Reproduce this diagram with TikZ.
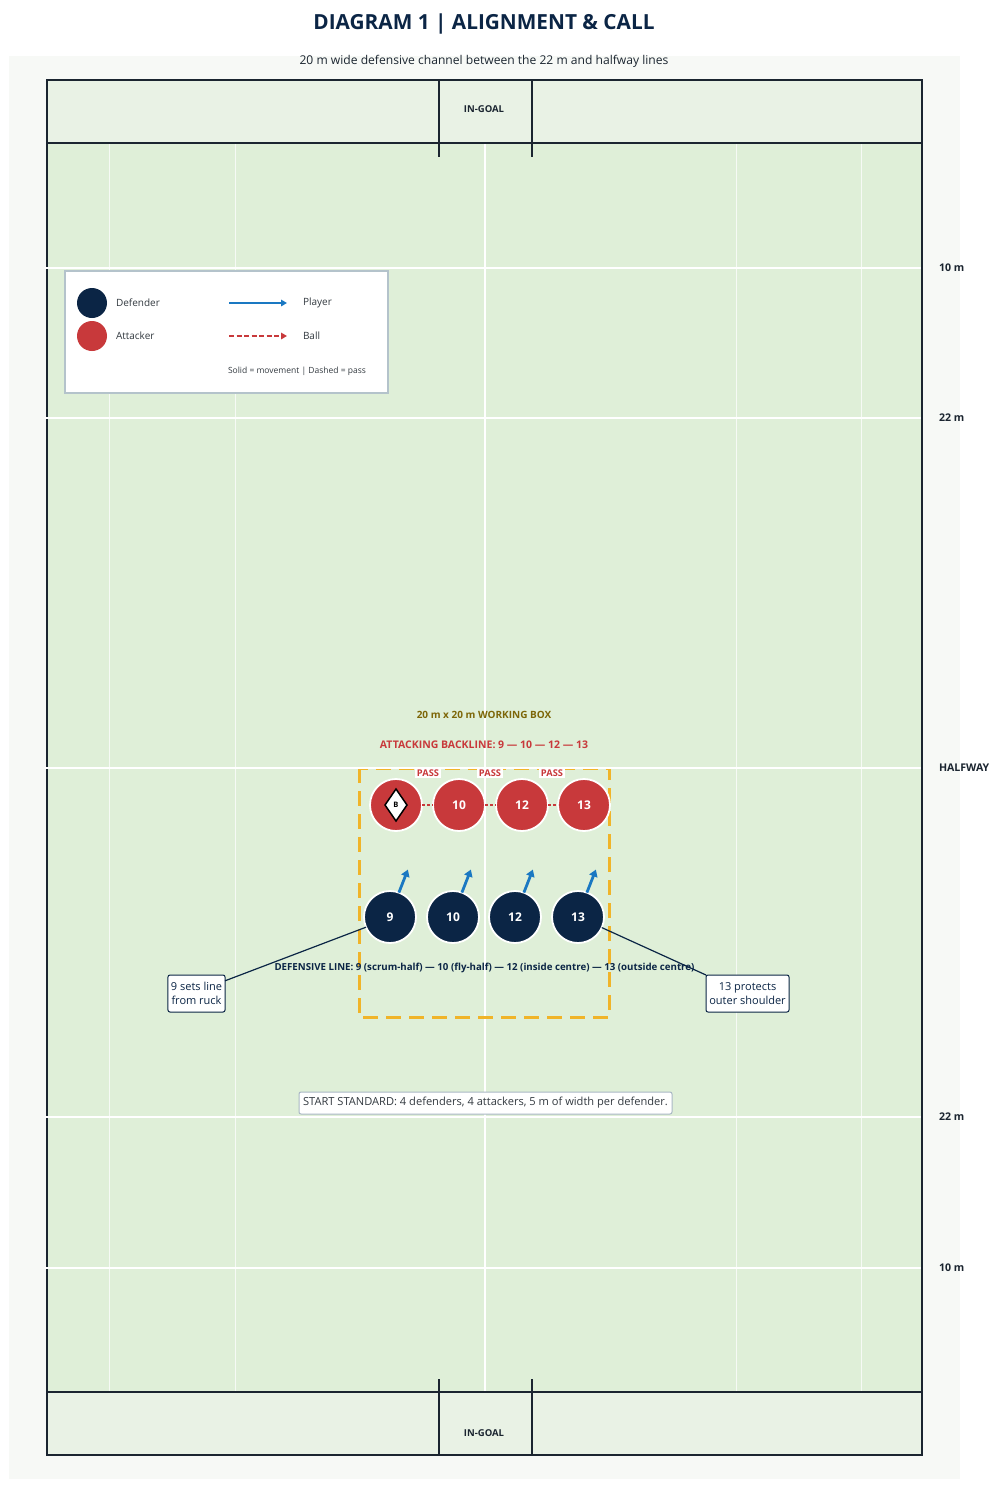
\documentclass[tikz,border=0pt]{standalone}
\usepackage{fontspec}
\setmainfont{Open Sans}
\usetikzlibrary{arrows.meta,shapes.geometric}
\definecolor{navy}{HTML}{0B2545}
\definecolor{atk}{HTML}{C8393B}
\definecolor{mv}{HTML}{1A78C2}
\definecolor{fieldg}{HTML}{DFEFD8}
\definecolor{ingoal}{HTML}{E9F2E5}
\definecolor{panel}{HTML}{F7F9F6}
\definecolor{lineD}{HTML}{1B2530}
\definecolor{boxY}{HTML}{F0B429}
\definecolor{olive}{HTML}{7D6608}
\definecolor{legB}{HTML}{B4C3CB}
\definecolor{txtG}{HTML}{333A40}
\definecolor{stdB}{HTML}{A9B7C4}
\begin{document}
\begin{tikzpicture}[x=1pt,y=-1pt,
  every node/.style={inner sep=0pt, outer sep=0pt},
  sidelbl/.style={font=\bfseries\fontsize{10.6}{12}\selectfont, text=lineD, anchor=west},
  defn/.style={circle, fill=navy, draw=white, line width=1.8pt, minimum size=52pt, text=white, font=\bfseries\fontsize{12}{14}\selectfont},
  attk/.style={defn, fill=atk},
  mvarrow/.style={mv, line width=2.8pt, -{Triangle[length=7pt,width=8.5pt]}},
  passline/.style={atk, line width=2pt, dash pattern=on 3pt off 2pt},
  passlbl/.style={fill=white, inner sep=1.5pt, text=atk, font=\bfseries\fontsize{9.3}{11}\selectfont},
  callout/.style={draw=navy, fill=white, rounded corners=2pt, line width=1pt, inner sep=3pt, align=center, text=navy, font=\fontsize{11}{14}\selectfont},
  legtxt/.style={anchor=west, text=txtG, font=\fontsize{10}{12}\selectfont},
  whiteline/.style={white, line width=2pt},
  faint/.style={white, opacity=0.75, line width=0.8pt},
  outline/.style={lineD, line width=2pt},
  ]
\useasboundingbox (0,0) rectangle (1000,1489);
\fill[white] (0,0) rectangle (1000,1489);
\fill[panel] (9,56) rectangle (960,1479);
% title
\node[font=\bfseries\fontsize{20.8}{24}\selectfont, text=navy] (title) at (484,24) {DIAGRAM 1 | ALIGNMENT \& CALL};
\node[font=\fontsize{12.1}{14}\selectfont, text=lineD] (subtitle) at (484,61) {20 m wide defensive channel between the 22 m and halfway lines};
% field
\fill[ingoal] (47,80) rectangle (922,143);
\fill[ingoal] (47,1392) rectangle (922,1455);
\fill[fieldg] (47,143) rectangle (922,1392);
\foreach \x in {109,235,736,861} \draw[faint] (\x,143) -- (\x,1392);
\draw[white, line width=1.2pt] (485,143) -- (485,1392);
% working box
\draw[boxY, line width=3pt, dash pattern=on 15pt off 8pt] (359,768) rectangle (609,1017);
% outline
\draw[outline] (47,80) rectangle (922,1455);
\draw[outline] (47,143) -- (922,143);
\draw[outline] (47,1392) -- (922,1392);
\draw[outline] (439,80) -- (439,157);
\draw[outline] (532,80) -- (532,157);
\draw[outline] (439,1379) -- (439,1455);
\draw[outline] (532,1379) -- (532,1455);
% white lines
\foreach \y in {268,418,768,1117,1268} \draw[whiteline] (45,\y) -- (921,\y);
% labels
\node[font=\bfseries\fontsize{9.5}{11}\selectfont, text=lineD] (ig1) at (484,109) {IN-GOAL};
\node[font=\bfseries\fontsize{9.5}{11}\selectfont, text=lineD] (ig2) at (484,1433) {IN-GOAL};
\node[sidelbl] (l1) at (939,268) {10 m};
\node[sidelbl] (l2) at (939,418) {22 m};
\node[sidelbl] (l3) at (939,768) {HALFWAY};
\node[sidelbl] (l4) at (939,1117) {22 m};
\node[sidelbl] (l5) at (939,1268) {10 m};
% legend
\draw[legB, fill=white, line width=1.2pt] (65,271) rectangle (388,393);
\node[circle, fill=navy, minimum size=30pt] (legD) at (92,303) {};
\node[circle, fill=atk, minimum size=30pt] (legA) at (92,336) {};
\node[legtxt] (legDt) at (116,303) {Defender};
\node[legtxt] (legAt) at (116,336) {Attacker};
\coordinate (lp1) at (229,303); \coordinate (lp2) at (287,303);
\coordinate (lb1) at (229,336); \coordinate (lb2) at (287,336);
\draw[mv, line width=2pt, -{Triangle[length=6pt,width=6.5pt]}] (lp1) -- (lp2);
\draw[atk, line width=2pt, dash pattern=on 5pt off 2.5pt, -{Triangle[length=6pt,width=6.5pt]}] (lb1) -- (lb2);
\node[legtxt] (legPt) at (303,303) {Player};
\node[legtxt] (legBt) at (303,336) {Ball};
\node[legtxt, font=\fontsize{8.5}{10}\selectfont] (legNote) at (228,371) {Solid = movement | Dashed = pass};
% box labels
\node[font=\bfseries\fontsize{10}{12}\selectfont, text=olive] (wbox) at (484,715) {20 m x 20 m WORKING BOX};
\node[font=\bfseries\fontsize{10.5}{12}\selectfont, text=atk] (backl) at (484,745) {ATTACKING BACKLINE: 9 — 10 — 12 — 13};
% attackers
\node[attk] (a9) at (396,805) {};
\node[attk] (a10) at (459,805) {10};
\node[attk] (a12) at (522,805) {12};
\node[attk] (a13) at (584,805) {13};
\node[diamond, draw=black, fill=white, line width=1.5pt, minimum width=22pt, minimum height=32pt, font=\bfseries\fontsize{7.5}{8}\selectfont] (ball) at (a9) {B};
\draw[passline] (a9.east) -- (a10.west);
\draw[passline] (a10.east) -- (a12.west);
\draw[passline] (a12.east) -- (a13.west);
\node[passlbl] (p1) at (428,773) {PASS};
\node[passlbl] (p2) at (490,773) {PASS};
\node[passlbl] (p3) at (552,773) {PASS};
% defenders
\node[defn] (d9) at (390,917) {9};
\node[defn] (d10) at (453,917) {10};
\node[defn] (d12) at (515,917) {12};
\node[defn] (d13) at (578,917) {13};
\foreach \d in {d9,d10,d12,d13} \draw[mvarrow] (\d.70) -- ++(9,-23);
\node[font=\bfseries\fontsize{9.7}{11}\selectfont, text=navy] (defl) at (484.5,968) {DEFENSIVE LINE: 9 (scrum-half) — 10 (fly-half) — 12 (inside centre) — 13 (outside centre)};
% callouts
\node[callout, minimum width=57pt, minimum height=37pt] (c9) at (196.5,993.5) {9 sets line\\from ruck};
\node[callout, minimum width=83pt, minimum height=37pt] (c13) at (747.5,993.5) {13 protects\\outer shoulder};
\draw[navy, line width=1.2pt] (d9.203) -- (c9.24);
\draw[navy, line width=1.2pt] (d13.336) -- (c13.north west);
\node[draw=stdB, fill=white, rounded corners=2pt, line width=1pt, minimum width=373pt, minimum height=22pt, text=txtG, font=\fontsize{11.1}{13}\selectfont] (std) at (485.5,1103) {START STANDARD: 4 defenders, 4 attackers, 5 m of width per defender.};
\end{tikzpicture}
\end{document}
